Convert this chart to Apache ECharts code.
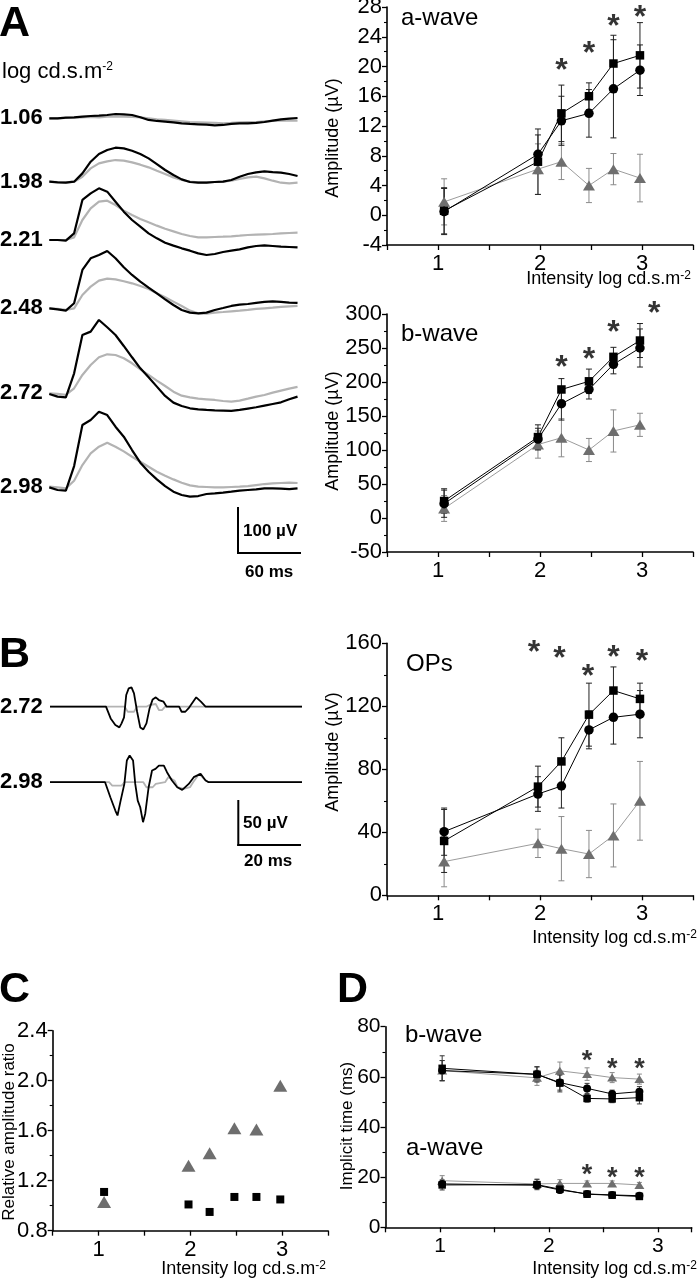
<!DOCTYPE html>
<html>
<head>
<meta charset="utf-8">
<script src="https://cdn.jsdelivr.net/npm/echarts@6/dist/echarts.min.js"></script>
<style>
html,body{margin:0;padding:0;background:#fff;}
#chart{width:697px;height:1280px;}
</style>
</head>
<body>
<div id="chart"></div>
<script>
// ---------------- DATA ----------------
// Panel A: ERG traces (time in ms, amplitude in µV)
const traceTime = [0,8,16,24,32,40,48,56,64,72,80,88,96,104,112,120,128,136,144,152,160,168,176,184,192,200,208,216,224,232,240];
const traceLabels = ['1.06','1.98','2.21','2.48','2.72','2.98'];
const blk106 = [0,0,1.4,2.2,3.6,5,5.8,7.2,9.4,8.7,7.2,2.2,-3.6,-5.8,-7.2,-8.7,-10.9,-12.3,-13,-13.8,-15.2,-14.5,-12.3,-10.9,-10.9,-10.1,-8,-5,-2.2,-0.7,0.7];
const gry106 = [0,0,0.7,1.4,2.2,2.9,2.2,3.6,4.3,3.6,2.9,2.2,0,-2.2,-3.6,-5,-6.5,-8,-8.7,-9.4,-10.1,-10.9,-10.1,-8.7,-8,-8,-6.5,-5.8,-5.1,-5.1,-5.1];
const blk198 = [0,-1.4,-2.2,0,18.1,43.5,60.1,68.8,73.9,72.5,67.4,60.1,50.7,38.4,25.4,14.5,5.1,-0.7,-2.2,-2.2,-0.7,0,3.6,10.9,16.7,20.3,22.5,21,19.6,16.7,12.3];
const gry198 = [0,-0.7,-1.4,0,10.9,29,39.9,44.2,47.1,45.7,42,37,31.2,23.9,16.7,9.4,3.6,0,-1.4,-1.4,-0.7,0,2.2,5.8,9.4,10.9,7.2,2.2,-2.2,-3.6,-2.2];
const blk221 = [0,0,-1.4,14.5,87,101.4,112.3,105.1,83.3,61.6,43.5,29,14.5,3.6,-5.8,-12.3,-18.1,-23.2,-29,-32.6,-30.4,-26.1,-23.2,-20.3,-15.9,-13,-11.6,-13,-14.5,-15.2,-15.9];
const gry221 = [0,0,0,5.8,43.5,68.8,83.3,85.5,76.1,63.8,54.3,45.7,38.4,31.2,24.6,18.8,13,8.7,5.8,5.8,6.5,7.2,8,9.4,10.9,11.6,12.3,13,14.5,15.2,15.9];
const blk248 = [0,-2.2,-5.1,10.9,83.3,108.7,115.9,124.6,108.7,89.1,72.5,58,44.9,32.6,19.6,7.2,-3.6,-9.4,-10.9,-9.4,-3.6,0.7,5.1,8,9.4,11.6,13.8,15.2,13.8,12.3,11.6];
const gry248 = [0,-1.4,-3.6,0,29,47.1,60.1,64.5,63,58.7,54.3,48.6,42,32.6,23.9,14.5,5.1,-5.1,-10.9,-11.6,-9.4,-8,-6.5,-5.1,-3.6,-1.4,0,1.4,2.9,4.3,5.1];
const blk272 = [-1.4,-7.2,-8.7,43.5,126.8,134.1,159.4,143.5,126.8,102.9,78.3,54.3,34.8,14.5,-5.8,-20.3,-27.5,-32.6,-34.8,-36.2,-37,-37.7,-38.4,-36.2,-33.3,-30.4,-26.8,-23.2,-19.6,-13,-7.2];
const gry272 = [0,-1.4,-3.6,10.9,39.9,61.6,78.3,84.8,83.3,76.1,65.2,52.2,39.9,27.5,15.9,3.6,-5.1,-8.7,-11.6,-13,-14.5,-16.7,-18.1,-15.9,-11.6,-7.2,-3.6,1.4,5.8,10.1,13.8];
const blk298 = [-1.4,-7.2,-8.7,44.9,134.1,144.9,163,155.8,130.4,108.7,79.7,52.2,32.6,15.9,1.4,-10.9,-18.1,-21.7,-20.3,-15.9,-14.5,-13,-10.9,-8.7,-7.2,-5.8,-3.6,-3.6,-4.3,-5.1,-3.6];
const gry298 = [0,-1.4,-3.6,13,47.1,72.5,87,95.7,87,76.8,65.2,54.3,43.5,32.6,23.9,15.9,8.7,2.9,0,-0.7,-1.4,-1.4,-0.7,0,1.4,3.6,5.8,7.2,8,8.7,8];

// Panel B: oscillatory potentials (time in ms, amplitude in µV)
const opsLabels = ['2.72','2.98'];
const ops272BlkT = [0,18,19.5,21,22.3,23,23.8,24.5,25.3,26.2,27,28,29,30,31,32,33,34,35,36.5,37.5,41.5,42.3,43.5,44.5,45.5,47,48.5,50,81];
const ops272BlkV = [0,0,-13,-20.4,-23,-18.5,-11.9,13,20.4,21.5,14.8,-5.6,-23,-25.2,-18.5,-1.9,8.1,10.4,7.4,5.6,0,0,-5.6,-5.6,-1.9,3,10.4,5.6,0,0];
const ops272GryT = [0,24,25,27,28,31,32,34,35,36,37,81];
const ops272GryV = [0,0,-5.6,-5.6,0,0,1.9,3,-3.7,-3.7,0,0];
const ops298BlkT = [0,17.7,19.4,21,21.7,22.2,22.6,23.9,24.7,25.6,26.7,27.4,28.2,29,29.9,30.6,31.7,32.8,33.9,35,36.6,37.6,39.2,40.9,42.5,44.6,46.2,48.4,50,51,81];
const ops298BlkV = [0,0,-16.7,-31.5,-37,-35.2,-22.2,-1.9,24.1,29.6,24.1,-1.9,-20.4,-27.8,-44.4,-35.2,-5.6,13,14.8,18.5,18.5,11.1,1.9,-5.6,-8.5,-1.9,5.6,9.3,1.9,0,0];
const ops298GryT = [0,19,20,23,24,30,31,33,34,37,38,40,41,43,45,46,48,49.5,51,81];
const ops298GryV = [0,0,-3.7,-3.7,0,0,-5.6,-5.6,-1.9,0,5.6,1.9,-5.6,-7.4,-5.6,0,9.3,3.7,0,0];

// Intensities (log cd.s.m-2)
const intensity = [1.06, 1.98, 2.21, 2.48, 2.72, 2.98];
const intensityD = [1.02, 1.89, 2.10, 2.35, 2.58, 2.83]; // positions as plotted in panel D

// a-wave amplitude (µV)
const aSquare = [0.6, 7.2, 13.7, 16.0, 20.4, 21.5];
const aSquareErr = [3.1, 4.4, 3.8, 1.8, 3.8, 4.4];
const aCircle = [0.5, 8.2, 12.7, 13.7, 17.0, 19.5];
const aCircleErr = [3.1, 2.6, 3.3, 3.2, 6.6, 3.4];
const aTriangle = [1.8, 6.2, 7.2, 4.0, 6.2, 5.0];
const aTriangleErr = [3.1, 3.4, 2.4, 2.3, 2.1, 3.2];
const aStars = [[2.21, 20.5], [2.48, 22.7], [2.72, 26.3], [2.98, 27.6]];

// b-wave amplitude (µV)
const bSquare = [25, 119, 189, 201, 237, 261];
const bSquareErr = [18, 18, 16, 18, 14, 25];
const bCircle = [21, 116, 168, 189, 226, 250];
const bCircleErr = [20, 16, 24, 14, 14, 28];
const bTriangle = [14, 108, 118, 100, 128, 137];
const bTriangleErr = [19, 20, 28, 17, 31, 17];
const bStars = [[2.21, 232], [2.48, 244], [2.72, 284], [3.12, 311]];

// OPs amplitude (µV)
const oSquare = [34.5, 69, 85, 114.7, 130, 124.7];
const oSquareErr = [20, 13, 15, 20, 15, 10];
const oCircle = [40.4, 64.3, 69.4, 105, 113, 115];
const oCircleErr = [15, 11, 14, 12, 17, 15];
const oTriangle = [21.4, 33, 29.6, 26.2, 38, 60];
const oTriangleErr = [16, 9, 20.4, 15, 20, 25];
const oStars = [[1.94, 159], [2.19, 154.7], [2.47, 143.5], [2.72, 155.8], [3.0, 153]];

// C: relative amplitude ratio
const cSquare = [1.11, 1.01, 0.95, 1.07, 1.07, 1.05];
const cTriangle = [1.03, 1.32, 1.42, 1.62, 1.61, 1.96];

// D: implicit time (ms)
const dbSquare = [63.4, 61.0, 57.5, 51.4, 51.2, 51.7];
const dbSquareErr = [5, 3, 3.5, 1.5, 1.5, 2.5];
const dbCircle = [62.5, 61.0, 57.7, 55.4, 53.2, 54.1];
const dbCircleErr = [4, 3, 3, 2, 1.5, 2];
const dbTriangle = [62.5, 59.6, 62.4, 61.1, 59.7, 59.1];
const dbTriangleErr = [4, 3, 3.5, 2.5, 2, 2];
const daSquare = [16.9, 17.0, 15.2, 13.2, 12.8, 12.3];
const daCircle = [17.3, 16.8, 14.9, 13.3, 12.9, 12.6];
const daTriangle = [18.6, 17.3, 17.5, 17.5, 17.5, 16.9];
const daErr = [2, 2, 1.5, 1, 1, 1];
const dStars = [[2.35, 68.7], [2.58, 65.6], [2.83, 65.6], [2.35, 23.5], [2.58, 22.2], [2.83, 22.2]];

// ---------------- BUILD ----------------
const FONT = '"Liberation Sans", Arial, Helvetica, sans-serif';
const BLACK = '#000';
const TRI = '#6e6e6e';
const TRI_LINE = '#9c9c9c';
const TRACE_GRAY = '#b3b3b3';

const grids = [], xAxes = [], yAxes = [], series = [], graphics = [];

function addGrid(g, xa, ya) {
  grids.push(Object.assign({outerBoundsMode: 'none', containLabel: false}, g));
  const gi = grids.length - 1;
  xa.gridIndex = gi; ya.gridIndex = gi;
  xAxes.push(xa); yAxes.push(ya);
  return gi;
}
function hiddenAxis(min, max) {
  return {type: 'value', min, max, show: false, splitLine: {show: false}};
}
function dataX(min, max, fs) {
  return {
    type: 'value', min, max, interval: 0.5,
    axisLine: {show: true, onZero: false, lineStyle: {color: BLACK, width: 1.6}},
    axisTick: {show: true, length: 5, lineStyle: {color: BLACK, width: 1.3}},
    axisLabel: {show: true, margin: 8, fontSize: fs || 22, color: BLACK, fontFamily: FONT,
      formatter: v => (Math.abs(v - Math.round(v)) < 1e-9 && v >= 1 && v <= 3) ? String(Math.round(v)) : ''},
    splitLine: {show: false}
  };
}
function dataY(min, max, interval, fs, fmt) {
  return {
    type: 'value', min, max, interval,
    axisLine: {show: true, onZero: false, lineStyle: {color: BLACK, width: 1.6}},
    axisTick: {show: true, length: 5, lineStyle: {color: BLACK, width: 1.3}},
    minorTick: {show: true, splitNumber: 2, length: 3, lineStyle: {color: BLACK, width: 1.1}},
    axisLabel: {show: true, margin: 5, fontSize: fs || 22, color: BLACK, fontFamily: FONT,
      formatter: fmt || (v => String(v))},
    splitLine: {show: false}, minorSplitLine: {show: false}
  };
}
function pairs(xs, ys) { return xs.map((x, i) => [x, ys[i]]); }
function triples(xs, ys, es) { return xs.map((x, i) => [x, ys[i], es[i]]); }

function traceSeries(gi, xs, ys, color, w) {
  series.push({type: 'line', xAxisIndex: gi, yAxisIndex: gi, data: pairs(xs, ys),
    showSymbol: false, symbol: 'none', lineStyle: {color, width: w}, silent: true, animation: false, z: 2});
}
function errSeries(gi, xs, ys, es, color, cap) {
  series.push({type: 'custom', xAxisIndex: gi, yAxisIndex: gi, data: triples(xs, ys, es),
    clip: false, silent: true, animation: false, z: 1,
    renderItem: function (params, api) {
      const x = api.value(0), y = api.value(1), e = api.value(2);
      const p1 = api.coord([x, y + e]), p2 = api.coord([x, y - e]);
      const st = {stroke: color, lineWidth: 1};
      return {type: 'group', children: [
        {type: 'line', shape: {x1: p1[0], y1: p1[1], x2: p2[0], y2: p2[1]}, style: st},
        {type: 'line', shape: {x1: p1[0] - cap, y1: p1[1], x2: p1[0] + cap, y2: p1[1]}, style: st},
        {type: 'line', shape: {x1: p2[0] - cap, y1: p2[1], x2: p2[0] + cap, y2: p2[1]}, style: st}
      ]};
    }});
}
function markerSeries(gi, xs, ys, symbol, size, color, lineColor) {
  series.push({type: 'line', xAxisIndex: gi, yAxisIndex: gi, data: pairs(xs, ys),
    symbol, symbolSize: size, showSymbol: true, showAllSymbol: true,
    itemStyle: {color, borderWidth: 0, opacity: 1},
    lineStyle: lineColor ? {color: lineColor, width: 1} : {width: 0, opacity: 0},
    silent: true, animation: false, z: 3});
}
function scatterSeries(gi, xs, ys, symbol, size, color) {
  series.push({type: 'scatter', xAxisIndex: gi, yAxisIndex: gi, data: pairs(xs, ys),
    symbol, symbolSize: size, itemStyle: {color, opacity: 1}, silent: true, animation: false, z: 3});
}
function starSeries(gi, pts, fs, off) {
  series.push({type: 'scatter', xAxisIndex: gi, yAxisIndex: gi, data: pts, clip: false,
    symbol: 'circle', symbolSize: 0.1, itemStyle: {color: 'rgba(0,0,0,0)'},
    label: {show: true, position: 'inside', formatter: '*', fontSize: fs, fontWeight: 'bold',
      color: BLACK, fontFamily: FONT, offset: [0, off]},
    silent: true, animation: false, z: 4});
}
function txt(x, y, text, opts, extra) {
  return Object.assign({type: 'text', x, y, silent: true,
    style: Object.assign({text, fill: BLACK, fontFamily: FONT, fontSize: 20, align: 'left', verticalAlign: 'middle'}, opts || {})}, extra || {});
}
function seg(x1, y1, x2, y2, w) {
  return {type: 'line', silent: true, shape: {x1, y1, x2, y2}, style: {stroke: BLACK, lineWidth: w || 2}};
}
const supRich = {sup: {fontSize: 12, verticalAlign: 'top', fontFamily: FONT, fill: BLACK}};

// ---- A: traces ----
const traceBase = [118.3, 181.7, 240, 308.3, 393.3, 486.7];
const traceBlack = [blk106, blk198, blk221, blk248, blk272, blk298];
const traceGray = [gry106, gry198, gry221, gry248, gry272, gry298];
const pxPerUV_A = 0.46, trMin = -60, trMax = 180;
traceBase.forEach((b, i) => {
  const gi = addGrid({left: 49.3, width: 253.4, top: b - trMax * pxPerUV_A, height: (trMax - trMin) * pxPerUV_A},
    hiddenAxis(0, 245), hiddenAxis(trMin, trMax));
  traceSeries(gi, traceTime, traceGray[i], TRACE_GRAY, 2.2);
  traceSeries(gi, traceTime, traceBlack[i], BLACK, 2.2);
  graphics.push(txt(0, b, traceLabels[i], {fontSize: 22, fontWeight: 'bold'}));
});

// ---- a-wave ----
const gA = addGrid({left: 387, top: 7, width: 306, height: 238}, dataX(0.5, 3.5), dataY(-4, 28, 4));
errSeries(gA, intensity, aTriangle, aTriangleErr, '#8a8a8a', 3);
errSeries(gA, intensity, aSquare, aSquareErr, '#222', 3);
errSeries(gA, intensity, aCircle, aCircleErr, '#222', 3);
markerSeries(gA, intensity, aTriangle, 'triangle', [12, 10], TRI, TRI_LINE);
markerSeries(gA, intensity, aSquare, 'rect', 8.5, BLACK, BLACK);
markerSeries(gA, intensity, aCircle, 'circle', 9.5, BLACK, BLACK);
starSeries(gA, aStars, 32, 8);

// ---- b-wave ----
const gB = addGrid({left: 387, top: 314, width: 306, height: 238}, dataX(0.5, 3.5), dataY(-50, 300, 50));
errSeries(gB, intensity, bTriangle, bTriangleErr, '#8a8a8a', 3);
errSeries(gB, intensity, bSquare, bSquareErr, '#222', 3);
errSeries(gB, intensity, bCircle, bCircleErr, '#222', 3);
markerSeries(gB, intensity, bTriangle, 'triangle', [12, 10], TRI, TRI_LINE);
markerSeries(gB, intensity, bSquare, 'rect', 8.5, BLACK, BLACK);
markerSeries(gB, intensity, bCircle, 'circle', 9.5, BLACK, BLACK);
starSeries(gB, bStars, 32, 8);

// ---- OPs ----
const gO = addGrid({left: 387, top: 643.3, width: 306, height: 252}, dataX(0.5, 3.5), dataY(0, 160, 40));
errSeries(gO, intensity, oTriangle, oTriangleErr, '#8a8a8a', 3);
errSeries(gO, intensity, oSquare, oSquareErr, '#222', 3);
errSeries(gO, intensity, oCircle, oCircleErr, '#222', 3);
markerSeries(gO, intensity, oTriangle, 'triangle', [12, 10], TRI, TRI_LINE);
markerSeries(gO, intensity, oSquare, 'rect', 8.5, BLACK, BLACK);
markerSeries(gO, intensity, oCircle, 'circle', 9.5, BLACK, BLACK);
starSeries(gO, oStars, 32, 8);

// ---- B: OP traces ----
const opsBase = [706.7, 782.2];
const opsBlkT = [ops272BlkT, ops298BlkT], opsBlkV = [ops272BlkV, ops298BlkV];
const opsGryT = [ops272GryT, ops298GryT], opsGryV = [ops272GryV, ops298GryV];
const pxPerUV_B = 0.9, opMin = -60, opMax = 40;
opsBase.forEach((b, i) => {
  const gi = addGrid({left: 50, width: 252, top: b - opMax * pxPerUV_B, height: (opMax - opMin) * pxPerUV_B},
    hiddenAxis(0, 81), hiddenAxis(opMin, opMax));
  traceSeries(gi, opsGryT[i], opsGryV[i], TRACE_GRAY, 1.8);
  traceSeries(gi, opsBlkT[i], opsBlkV[i], BLACK, 1.8);
  graphics.push(txt(0, b, opsLabels[i], {fontSize: 22, fontWeight: 'bold'}));
});

// ---- C ----
const gC = addGrid({left: 52.7, top: 1030.7, width: 275.3, height: 200}, dataX(0.5, 3.5), dataY(0.8, 2.4, 0.4, 22, v => v.toFixed(1)));
scatterSeries(gC, intensity, cTriangle, 'triangle', [14, 12], TRI);
scatterSeries(gC, intensity, cSquare, 'rect', 8, BLACK);

// ---- D ----
const gD = addGrid({left: 385.5, top: 1026.7, width: 306.2, height: 200.6}, dataX(0.5, 3.31, 21), dataY(0, 80, 20, 21));
errSeries(gD, intensityD, dbTriangle, dbTriangleErr, '#8a8a8a', 2.5);
errSeries(gD, intensityD, dbSquare, dbSquareErr, '#333', 2.5);
errSeries(gD, intensityD, dbCircle, dbCircleErr, '#333', 2.5);
errSeries(gD, intensityD, daTriangle, daErr, '#8a8a8a', 2.5);
errSeries(gD, intensityD, daSquare, daErr, '#333', 2.5);
markerSeries(gD, intensityD, dbTriangle, 'triangle', [10, 8], TRI, TRI_LINE);
markerSeries(gD, intensityD, dbSquare, 'rect', 7.5, BLACK, BLACK);
markerSeries(gD, intensityD, dbCircle, 'circle', 8, BLACK, BLACK);
markerSeries(gD, intensityD, daTriangle, 'triangle', [10, 8], TRI, TRI_LINE);
markerSeries(gD, intensityD, daSquare, 'rect', 7.5, BLACK, BLACK);
markerSeries(gD, intensityD, daCircle, 'circle', 8, BLACK, BLACK);
starSeries(gD, dStars, 27, 7);

// ---- text & decorations ----
const letter = {fontSize: 43, fontWeight: 'bold'};
graphics.push(txt(-1, 24, 'A', letter));
graphics.push(txt(-1, 655, 'B', letter));
graphics.push(txt(-1, 990, 'C', letter));
graphics.push(txt(337, 990, 'D', letter));
graphics.push(txt(2, 72, 'log cd.s.m{sup|-2}', {fontSize: 22, rich: supRich}));

// scale bars
graphics.push(seg(238, 507, 238, 554), seg(237, 553, 301, 553));
graphics.push(txt(243, 531, '100 µV', {fontSize: 17, fontWeight: 'bold'}));
graphics.push(txt(245, 572, '60 ms', {fontSize: 17, fontWeight: 'bold'}));
graphics.push(seg(238.3, 800, 238.3, 846), seg(237.3, 845, 301, 845));
graphics.push(txt(243, 823, '50 µV', {fontSize: 17, fontWeight: 'bold'}));
graphics.push(txt(244, 861, '20 ms', {fontSize: 17, fontWeight: 'bold'}));

// panel titles
graphics.push(txt(401, 18, 'a-wave', {fontSize: 24}));
graphics.push(txt(401, 334, 'b-wave', {fontSize: 24}));
graphics.push(txt(406, 664, 'OPs', {fontSize: 24}));
graphics.push(txt(405, 1035, 'b-wave', {fontSize: 24}));
graphics.push(txt(406, 1148, 'a-wave', {fontSize: 24}));

// axis titles
const xTitle = 'Intensity log cd.s.m{sup|-2}';
graphics.push(txt(691, 279, xTitle, {fontSize: 18, align: 'right', rich: supRich}));
graphics.push(txt(697, 938, xTitle, {fontSize: 18, align: 'right', rich: supRich}));
graphics.push(txt(326, 1269, xTitle, {fontSize: 18, align: 'right', rich: supRich}));
graphics.push(txt(697, 1269, xTitle, {fontSize: 18, align: 'right', rich: supRich}));
const rot = {rotation: Math.PI / 2};
graphics.push(txt(333, 138, 'Amplitude (µV)', {fontSize: 18, align: 'center'}, rot));
graphics.push(txt(333, 431, 'Amplitude (µV)', {fontSize: 18, align: 'center'}, rot));
graphics.push(txt(333, 752, 'Amplitude (µV)', {fontSize: 18, align: 'center'}, rot));
graphics.push(txt(9, 1132, 'Relative amplitude ratio', {fontSize: 17, align: 'center'}, rot));
graphics.push(txt(347, 1126, 'Implicit time (ms)', {fontSize: 17, align: 'center'}, rot));

const chart = echarts.init(document.getElementById('chart'), null, {renderer: 'canvas'});
chart.setOption({
  animation: false,
  backgroundColor: '#fff',
  grid: grids,
  xAxis: xAxes,
  yAxis: yAxes,
  series: series,
  graphic: {elements: graphics}
});
</script>
</body>
</html>
